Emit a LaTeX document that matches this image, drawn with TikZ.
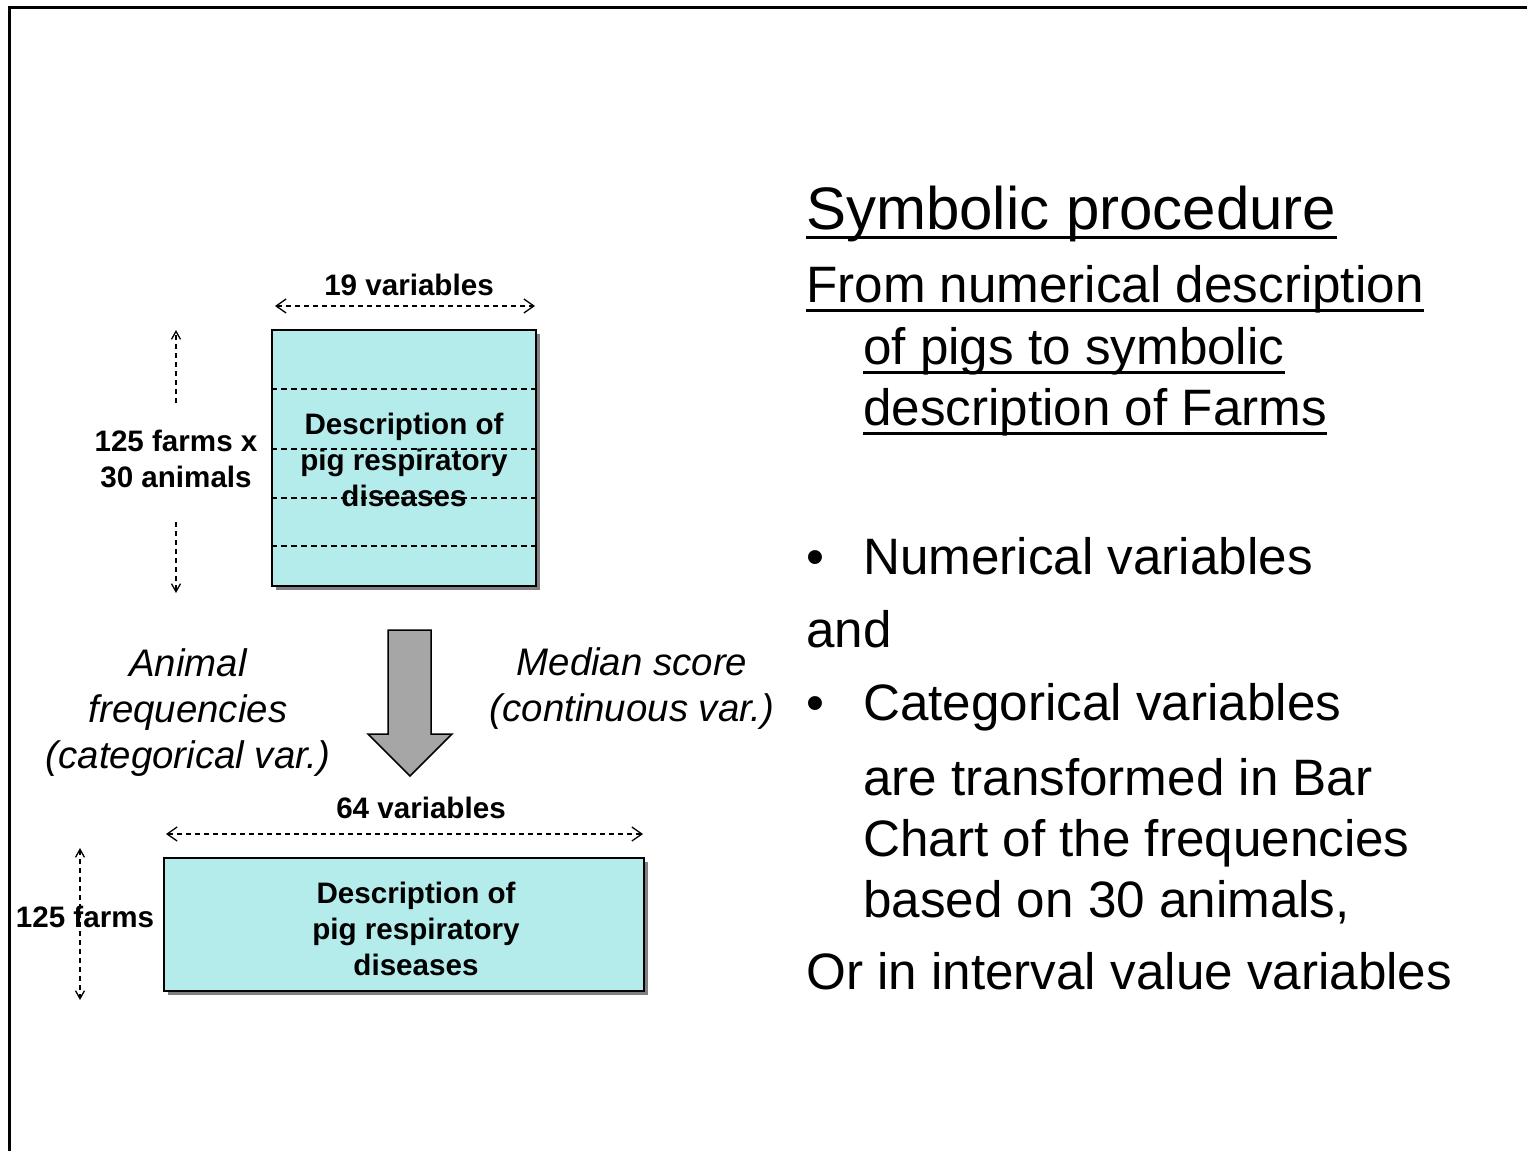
\documentclass[tikz,border=0pt]{standalone}
\usepackage{fontspec}
\setmainfont{Liberation Sans}
\usetikzlibrary{arrows.meta,calc,shadows}
\definecolor{boxfill}{RGB}{180,236,236}
\definecolor{arrowgray}{RGB}{166,166,166}
\begin{document}
\begin{tikzpicture}[x=1pt,y=-1pt,
  lbl/.style={font=\fontsize{29.6pt}{36pt}\selectfont\bfseries, align=center, inner sep=0pt},
  itlbl/.style={font=\fontsize{38.4pt}{46pt}\selectfont\itshape, align=center, inner sep=0pt},
  body/.style={font=\fontsize{51.2pt}{60pt}\selectfont, anchor=base west, inner sep=0pt},
  titletext/.style={font=\fontsize{60pt}{70pt}\selectfont, anchor=base west, inner sep=0pt},
  databox/.style={draw=black, line width=1.5pt, fill=boxfill, inner sep=0pt,
    drop shadow={shadow xshift=4pt,shadow yshift=-4pt,fill=black!50,opacity=1}},
  dimline/.style={dash pattern=on 5pt off 4pt, line width=1.3pt},
  dimarrow/.style={dimline, {Straight Barb[length=10pt,width=14pt,line width=1.3pt]}-{Straight Barb[length=10pt,width=14pt,line width=1.3pt]}},
  vdimup/.style={dimline, -{Straight Barb[length=8pt,width=9pt,line width=1.3pt]}},
  vdimboth/.style={dimline, {Straight Barb[length=8pt,width=9pt,line width=1.3pt]}-{Straight Barb[length=8pt,width=9pt,line width=1.3pt]}},
  rowline/.style={dash pattern=on 6pt off 4pt, line width=1.3pt},
  ulline/.style={line width=3pt},
  blockarrow/.style={draw=black, line width=1.5pt, fill=arrowgray, line join=miter}
]
\useasboundingbox (0,0) rectangle (1527,1151);
% frame
\draw[line width=3pt, line join=miter] (9.5,1151) -- (9.5,7.5) -- (1527,7.5);

% top box
\node[databox, minimum width=264pt, minimum height=256pt] (box1) at (404,458) {};
\node[lbl] (box1txt) at (404,460) {Description of\\pig respiratory\\diseases};
\foreach \yy in {389,449,498,546}
  \draw[rowline] (box1.west |- 0,\yy) -- (box1.east |- 0,\yy);

\node[lbl] (v19) at (409,285) {19 variables};
\coordinate (v19l) at (275,306);
\coordinate (v19r) at (535,306);
\draw[dimarrow] (v19l) -- (v19r);

\node[lbl] (farms1) at (176,459) {125 farms x\\30 animals};
\coordinate (f1a) at (176,403);
\coordinate (f1top) at (176,330);
\coordinate (f1b) at (176,522);
\coordinate (f1bot) at (176,593);
\draw[vdimup] (f1a) -- (f1top);
\draw[vdimup] (f1b) -- (f1bot);

% block arrow
\draw[blockarrow] (388,630) -- (431,630) -- (431,734) -- (452,734) -- (410,776) -- (368,734) -- (388,734) -- cycle;

\node[itlbl] (anim) at (188,713) {Animal\\frequencies\\(categorical var.)};
\node[itlbl] (median) at (632,689) {Median score\\(continuous var.)};

% bottom box
\node[lbl] (v64) at (421,808) {64 variables};
\coordinate (v64l) at (166,834);
\coordinate (v64r) at (643,834);
\draw[dimarrow] (v64l) -- (v64r);

\node[databox, minimum width=480pt, minimum height=133pt] (box2) at (404,924.5) {};
\node[lbl] (box2txt) at (416,928.5) {Description of\\pig respiratory\\diseases};

\coordinate (f2top) at (80,848);
\coordinate (f2bot) at (80,1000);
\draw[vdimboth] (f2top) -- (f2bot);
\node[lbl] (farms2) at (85,917) {125 farms};

% right text
\node[titletext] (t1) at (806,229) {Symbolic procedure};
\node[body] (t2) at (806,302) {From numerical description};
\node[body] (t3) at (863,364) {of pigs to symbolic};
\node[body] (t4) at (863,425) {description of Farms};
\foreach \n in {t1,t2,t3,t4}
  \draw[ulline] ($(\n.base west)+(0,8)$) -- ($(\n.base east)+(0,8)$);

\node[body] (d1) at (806,574) {•};
\node[body] (b1) at (863,574) {Numerical variables};
\node[body] (and) at (806,647) {and};
\node[body] (d2) at (806,720) {•};
\node[body] (b2) at (863,720) {Categorical variables};
\node[body] (b3) at (863,795) {are transformed in Bar};
\node[body] (b4) at (863,856) {Chart of the frequencies};
\node[body] (b5) at (863,917) {based on 30 animals,};
\node[body] (b6) at (806,989) {Or in interval value variables};
\end{tikzpicture}
\end{document}
